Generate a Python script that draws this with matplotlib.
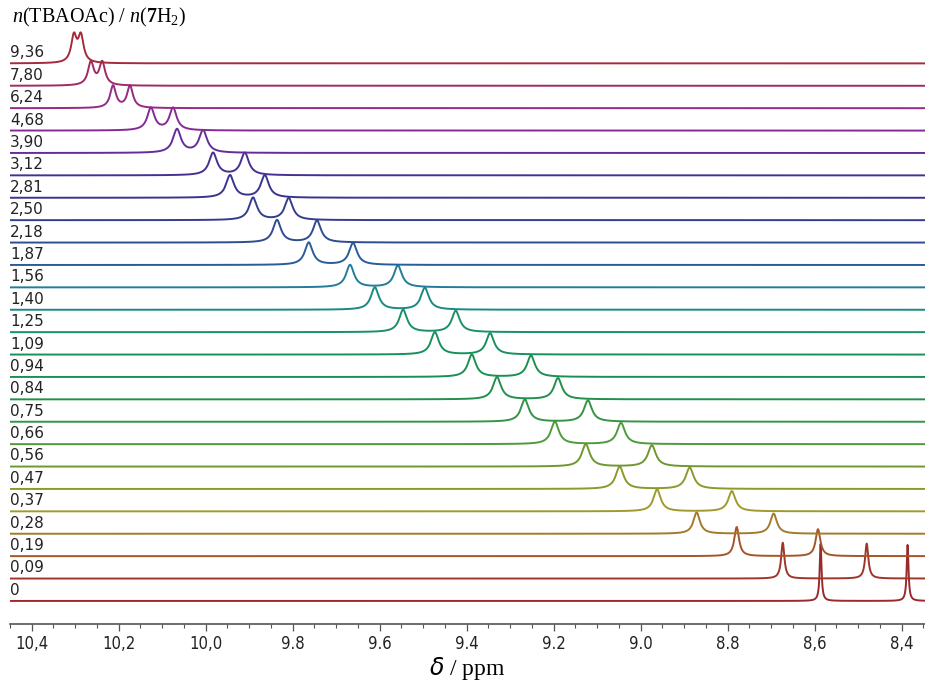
import matplotlib
matplotlib.use("Agg")
import matplotlib.pyplot as plt
import numpy as np

# titration: equivalents of TBAOAc, bottom trace first
ratios = ["0", "0,09", "0,19", "0,28", "0,37", "0,47", "0,56", "0,66", "0,75",
          "0,84", "0,94", "1,09", "1,25", "1,40", "1,56", "1,87", "2,18", "2,50",
          "2,81", "3,12", "3,90", "4,68", "6,24", "7,80", "9,36"]
# NH signals (ppm)
shift_a = [8.586, 8.673, 8.779, 8.871, 8.962, 9.048, 9.126, 9.197, 9.266, 9.330,
           9.388, 9.473, 9.546, 9.611, 9.668, 9.763, 9.836, 9.891, 9.944, 9.983,
           10.066, 10.126, 10.213, 10.264, 10.303]
shift_b = [8.386, 8.480, 8.592, 8.694, 8.790, 8.887, 8.974, 9.045, 9.121, 9.190,
           9.252, 9.346, 9.425, 9.496, 9.558, 9.661, 9.744, 9.809, 9.864, 9.910,
           10.006, 10.075, 10.174, 10.238, 10.287]
# peak intensities (in units of trace spacing)
height_a = [2.55, 1.60, 1.30, 0.95, 0.98, 1.00, 1.00, 1.00, 1.00, 1.00,
            1.00, 1.00, 1.00, 1.00, 1.00, 1.00, 1.00, 1.00, 1.00, 1.00,
            1.05, 1.00, 0.99, 1.03, 1.17]
height_b = [2.50, 1.56, 1.20, 0.90, 0.90, 0.95, 0.95, 0.95, 0.95, 0.95,
            0.95, 0.95, 0.95, 0.98, 0.98, 0.98, 0.98, 0.98, 1.00, 1.00,
            1.00, 1.00, 0.99, 1.03, 1.17]
# half width at half maximum (ppm)
hwhm = [0.0025, 0.0045, 0.0065, 0.009, 0.010, 0.011, 0.011, 0.011, 0.011, 0.011,
        0.011, 0.011, 0.011, 0.011, 0.011, 0.011, 0.011, 0.011, 0.011, 0.011,
        0.011, 0.010, 0.008, 0.008, 0.0075]
colors = ["#9a2a2c", "#a0362a", "#a4552a", "#a47a2c", "#a09a2e", "#8a9a2c",
          "#6e982e", "#509a3c", "#349444", "#22904c", "#1c9052", "#18905c",
          "#1a9068", "#1a8a80", "#227c9c", "#285c9a", "#2e4c94", "#343e8e",
          "#3a3490", "#483092", "#642e98", "#842a98", "#962a86", "#a02a62",
          "#a42a3c"]

x = np.linspace(8.3, 10.5, 12000)

fig = plt.figure(figsize=(9.25, 6.84), dpi=100)
ax = fig.add_axes([10 / 925, 60 / 684, 915 / 925, 624 / 684])

for i, lab in enumerate(ratios):
    w = hwhm[i]
    y = (height_a[i] * w ** 2 / ((x - shift_a[i]) ** 2 + w ** 2)
         + height_b[i] * w ** 2 / ((x - shift_b[i]) ** 2 + w ** 2))
    ax.plot(x, y + i, color=colors[i], lw=1.4)
    ax.text(0.0, i + 0.27, lab, transform=ax.get_yaxis_transform(),
            ha="left", va="baseline", fontsize=11, family="DejaVu Sans",
            color="#222222")

ax.set_xlim(10.45, 8.346)
ax.set_ylim(-1.03, 26.83)
for s in ["top", "left", "right"]:
    ax.spines[s].set_visible(False)
ax.spines["bottom"].set_color("#555555")
ax.spines["bottom"].set_linewidth(1.2)
ax.set_yticks([])

ticks = [10.4, 10.2, 10.0, 9.8, 9.6, 9.4, 9.2, 9.0, 8.8, 8.6, 8.4]
tick_labels = ["10,4", "10,2", "10,0", "9.8", "9.6", "9.4", "9.2", "9.0", "8.8", "8,6", "8,4"]
ax.set_xticks(ticks)
ax.set_xticklabels(tick_labels, family="DejaVu Sans", stretch="condensed",
                   fontsize=12, color="#222222")
ax.set_xticks(np.arange(8.35, 10.46, 0.05), minor=True)
ax.tick_params(axis="x", which="major", length=5, width=0.9, color="#555555", pad=3)
ax.tick_params(axis="x", which="minor", length=3, width=0.8, color="#555555")

plt.rcParams["mathtext.fontset"] = "custom"
plt.rcParams["mathtext.rm"] = "Liberation Serif"
plt.rcParams["mathtext.it"] = "Liberation Serif:italic"
plt.rcParams["mathtext.bf"] = "Liberation Serif:bold"

ax.set_xlabel(r"$\delta$ / ppm", family="Liberation Serif", fontsize=17, labelpad=1)
fig.text(12 / 925, 1 - 22 / 684, r"$n$(TBAOAc) / $n$($\mathbf{7}\mathrm{H}_2$)",
         family="Liberation Serif", fontsize=14.5, ha="left", va="baseline")

plt.savefig("out.png", dpi=100)
